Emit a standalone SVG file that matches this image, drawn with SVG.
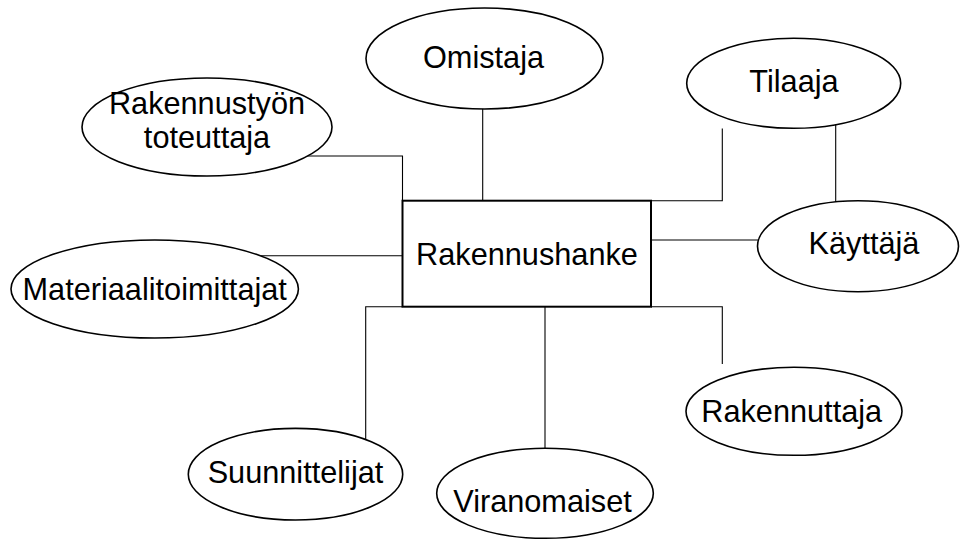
<svg xmlns="http://www.w3.org/2000/svg" width="961" height="540" viewBox="0 0 961 540">
<style>
.bg{fill:#ffffff}
.conn{fill:none;stroke:#000;stroke-width:1.1}
.ell{fill:#ffffff;stroke:#000;stroke-width:1.6}
.box{fill:#ffffff;stroke:#000;stroke-width:2}
.t{font-family:"Liberation Sans",Arial,sans-serif;font-size:30.7px;fill:#000;text-anchor:middle}
</style>
<rect class="bg" x="0" y="0" width="961" height="540"/>
<g id="connectors">
<path class="conn" d="M482.7 105 V200.7"/>
<path class="conn" d="M300 156 H402.5 V200.7"/>
<path class="conn" d="M255 255.7 H402.5"/>
<path class="conn" d="M402.5 306.7 H365.7 V440"/>
<path class="conn" d="M545 306.7 V452"/>
<path class="conn" d="M651 306.7 H722.3 V364"/>
<path class="conn" d="M651 240 H760"/>
<path class="conn" d="M651 200.7 H722.3 V128.5"/>
<path class="conn" d="M835.7 124 V204"/>
</g>
<g id="node-rakennushanke">
<rect class="box" x="402.5" y="200.7" width="248.5" height="106"/>
<text class="t" x="527" y="264.5">Rakennushanke</text>
</g>
<g id="node-omistaja">
<ellipse class="ell" cx="484.5" cy="58.5" rx="118.5" ry="50.5"/>
<text class="t" x="483.5" y="68.3">Omistaja</text>
</g>
<g id="node-rakennustyon-toteuttaja">
<ellipse class="ell" cx="207" cy="127" rx="125" ry="49"/>
<text class="t" x="207" y="114.3">Rakennustyön</text>
<text class="t" x="207" y="148.3">toteuttaja</text>
</g>
<g id="node-tilaaja">
<ellipse class="ell" cx="793.7" cy="83.3" rx="107" ry="45"/>
<text class="t" x="794" y="91.7">Tilaaja</text>
</g>
<g id="node-kayttaja">
<ellipse class="ell" cx="858" cy="246.2" rx="100.5" ry="45.5"/>
<text class="t" x="864" y="254">Käyttäjä</text>
</g>
<g id="node-materiaalitoimittajat">
<ellipse class="ell" cx="154.7" cy="289" rx="143.7" ry="49"/>
<text class="t" x="154.7" y="300">Materiaalitoimittajat</text>
</g>
<g id="node-suunnittelijat">
<ellipse class="ell" cx="295.5" cy="474.2" rx="107.2" ry="45.8"/>
<text class="t" x="295.5" y="483.3">Suunnittelijat</text>
</g>
<g id="node-viranomaiset">
<ellipse class="ell" cx="545" cy="493.3" rx="108.3" ry="45"/>
<text class="t" x="542.5" y="511.7">Viranomaiset</text>
</g>
<g id="node-rakennuttaja">
<ellipse class="ell" cx="794" cy="411.3" rx="108" ry="44"/>
<text class="t" x="791.7" y="421.7">Rakennuttaja</text>
</g>
</svg>
